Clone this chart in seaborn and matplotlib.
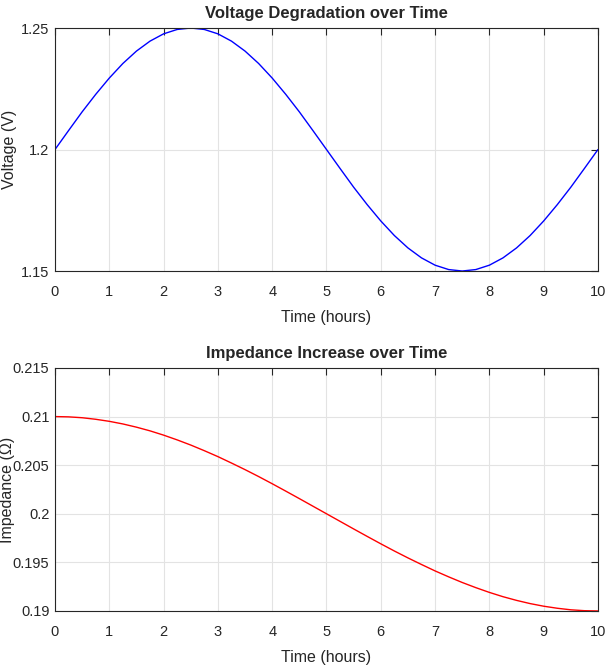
import numpy as np
import pandas as pd
import matplotlib
matplotlib.use("Agg")
import matplotlib.pyplot as plt
import seaborn as sns

# sample times (hours)
time_h = [0.0, 0.25, 0.5, 0.75, 1.0, 1.25, 1.5, 1.75, 2.0, 2.25, 2.5, 2.75,
          3.0, 3.25, 3.5, 3.75, 4.0, 4.25, 4.5, 4.75, 5.0, 5.25, 5.5, 5.75,
          6.0, 6.25, 6.5, 6.75, 7.0, 7.25, 7.5, 7.75, 8.0, 8.25, 8.5, 8.75,
          9.0, 9.25, 9.5, 9.75, 10.0]

# voltage
voltage = [1.2000, 1.2078, 1.2155, 1.2227, 1.2294, 1.2354, 1.2405, 1.2446,
           1.2476, 1.2494, 1.2500, 1.2494, 1.2476, 1.2446, 1.2405, 1.2354,
           1.2294, 1.2227, 1.2155, 1.2078, 1.2000, 1.1922, 1.1845, 1.1773,
           1.1706, 1.1646, 1.1595, 1.1554, 1.1524, 1.1506, 1.1500, 1.1506,
           1.1524, 1.1554, 1.1595, 1.1646, 1.1706, 1.1773, 1.1845, 1.1922,
           1.2000]

# impedance (ohm)
impedance = [0.21000, 0.20997, 0.20988, 0.20972, 0.20951, 0.20924, 0.20891,
             0.20853, 0.20809, 0.20760, 0.20707, 0.20649, 0.20588, 0.20522,
             0.20454, 0.20383, 0.20309, 0.20233, 0.20156, 0.20078, 0.20000,
             0.19922, 0.19844, 0.19767, 0.19691, 0.19617, 0.19546, 0.19478,
             0.19412, 0.19351, 0.19293, 0.19240, 0.19191, 0.19147, 0.19109,
             0.19076, 0.19049, 0.19028, 0.19012, 0.19003, 0.19000]

x_ticks = list(range(0, 11))
v_ticks = [1.15, 1.2, 1.25]
z_ticks = [0.19, 0.195, 0.2, 0.205, 0.21, 0.215]

df = pd.DataFrame({"Time": time_h, "Voltage": voltage, "Impedance": impedance})

sns.set_style("white")
plt.rcParams["font.family"] = ["Liberation Sans", "DejaVu Sans"]

fig = plt.figure(figsize=(6.05, 6.7), dpi=100)
ax1 = fig.add_axes([0.0909, 0.5955, 0.8975, 0.3627])
ax2 = fig.add_axes([0.0909, 0.0881, 0.8975, 0.3627])


def style_axis(ax, yticks, ylim):
    ax.set_xlim(0, 10)
    ax.set_ylim(*ylim)
    ax.set_xticks(x_ticks)
    ax.set_yticks(yticks)
    ax.set_xticklabels([f"{t:g}" for t in x_ticks])
    ax.set_yticklabels([f"{t:g}" for t in yticks])
    ax.grid(True, color="#e3e3e3", linewidth=0.8)
    ax.tick_params(direction="in", length=5, width=0.8, top=True, right=True,
                   labelsize=10.5, colors="#262626", pad=4)
    ax.tick_params(axis="x", pad=10)
    for s in ax.spines.values():
        s.set_visible(True)
        s.set_color("#262626")
        s.set_linewidth(0.8)
    ax.set_xlabel("Time (hours)", fontsize=11.5, color="#262626", labelpad=8)


sns.lineplot(data=df, x="Time", y="Voltage", ax=ax1, color="blue", linewidth=1)
style_axis(ax1, v_ticks, (1.15, 1.25))
ax1.set_ylabel("Voltage (V)", fontsize=11.5, color="#262626")
ax1.yaxis.set_label_coords(-0.070, 0.5)
ax1.set_title("Voltage Degradation over Time", fontsize=12, fontweight="bold", pad=7)

sns.lineplot(data=df, x="Time", y="Impedance", ax=ax2, color="red", linewidth=1)
style_axis(ax2, z_ticks, (0.19, 0.215))
ax2.set_ylabel("Impedance (Ω)", fontsize=11.5, color="#262626")
ax2.yaxis.set_label_coords(-0.074, 0.5)
ax2.set_title("Impedance Increase over Time", fontsize=12, fontweight="bold", pad=7)

fig.savefig("out.png", dpi=100)
